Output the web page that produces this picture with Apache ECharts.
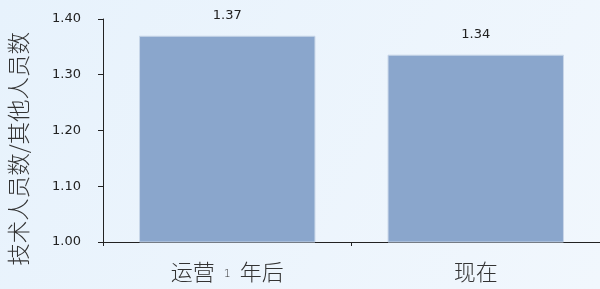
<!DOCTYPE html>
<html>
<head>
<meta charset="utf-8">
<style>
  html, body { margin: 0; padding: 0; }
  #main { width: 600px; height: 289px; }
</style>
<script src="https://cdn.jsdelivr.net/npm/echarts@6/dist/echarts.min.js"></script>
</head>
<body>
<div id="main"></div>
<script>
// 数据
const categories = ['运营 1 年后', '现在'];
const ratioValues = [1.37, 1.336];
const yTicks = [1.0, 1.1, 1.2, 1.3, 1.4];
const yAxisTitle = '技术人员数/其他人员数';

const chart = echarts.init(document.getElementById('main'));

let option = {
  backgroundColor: {
    type: 'linear', x: 0, y: 0, x2: 1, y2: 1,
    colorStops: [
      { offset: 0, color: '#e7f2fc' },
      { offset: 1, color: '#f1f7fd' }
    ]
  },
  textStyle: { fontFamily: 'DejaVu Sans' },
  grid: { left: 103, top: 19, width: 500, height: 223 },
  xAxis: {
    type: 'category',
    data: categories,
    axisLine: { lineStyle: { color: '#222', width: 1 } },
    axisTick: { show: true, length: 4, lineStyle: { color: '#222' } },
    axisLabel: {
      margin: 19,
      fontSize: 22,
      color: '#333',
      fontFamily: 'Noto Sans CJK SC',
      fontWeight: 300,
      formatter: function (v) {
        return v.replace(' 1 ', '{s|1}');
      },
      rich: {
        s: { fontSize: 11, color: '#333', fontFamily: 'DejaVu Sans', padding: [4, 9, 0, 9] }
      }
    }
  },
  yAxis: {
    type: 'value',
    min: yTicks[0],
    max: yTicks[yTicks.length - 1],
    interval: 0.1,
    axisLine: { show: true, lineStyle: { color: '#222', width: 1 } },
    axisTick: { show: true, length: 5, lineStyle: { color: '#222' } },
    splitLine: { show: false },
    axisLabel: {
      margin: 22,
      fontSize: 13,
      color: '#222',
      formatter: function (v) { return v.toFixed(2); }
    }
  },
  graphic: [{
    type: 'text',
    left: 7,
    top: 32,
    rotation: Math.PI / 2,
    style: {
      text: yAxisTitle,
      fontSize: 22.5,
      fill: '#333',
      fontWeight: 300,
      fontFamily: 'Noto Sans CJK SC'
    }
  }],
  series: [{
    type: 'bar',
    data: ratioValues,
    barWidth: '71%',
    itemStyle: { color: '#8aa6cc', borderColor: '#c8d6e8', borderWidth: 1 },
    label: {
      show: true,
      position: 'top',
      distance: 14,
      fontSize: 13,
      color: '#222',
      formatter: function (p) { return p.value.toFixed(2); }
    }
  }]
};
chart.setOption(option);
</script>
</body>
</html>
